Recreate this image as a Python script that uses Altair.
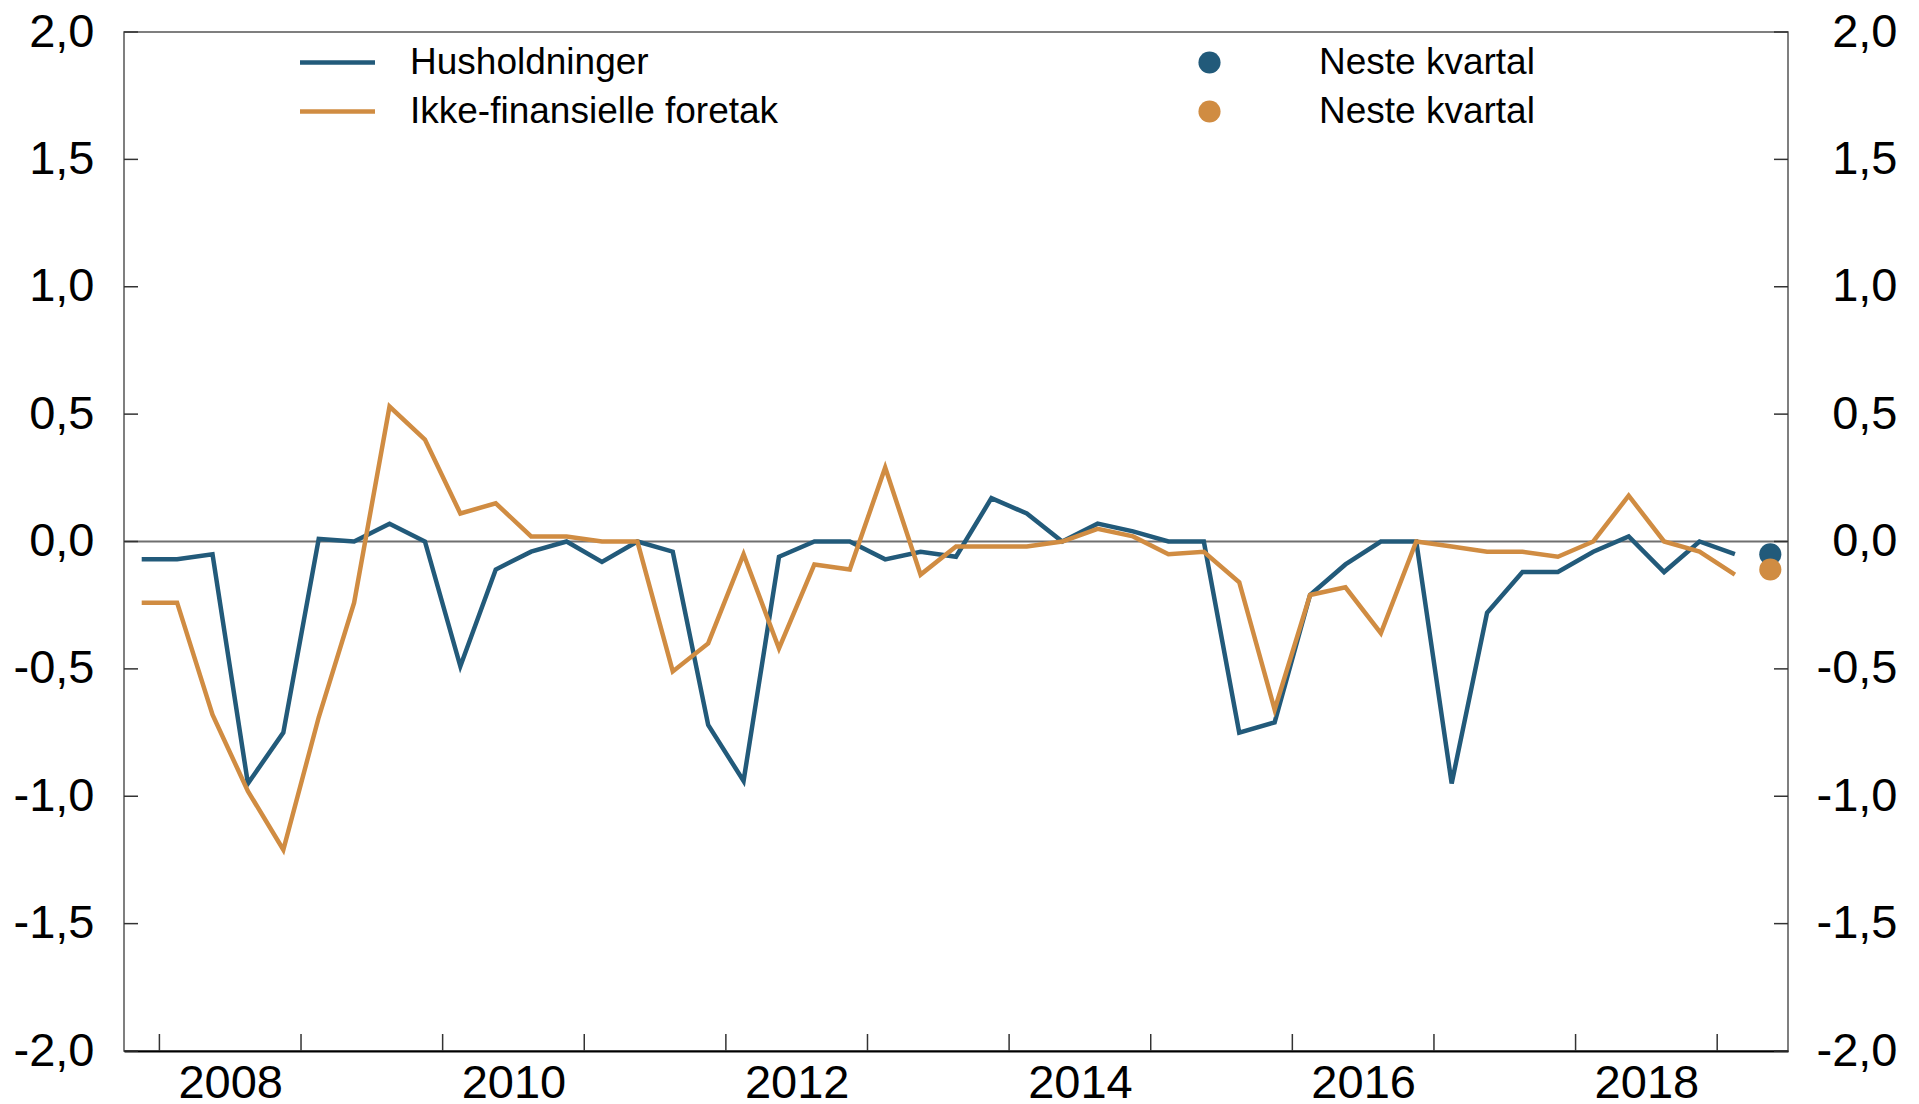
import altair as alt
import pandas as pd

# ---- data (quarterly, 2007Q4 - 2019Q1) ----
quarters = [f"{y}Q{q}" for y in range(2007, 2020) for q in range(1, 5)][3:49]

husholdninger = [-0.07, -0.07, -0.05, -0.95, -0.75, 0.01, 0.0, 0.07, 0.0, -0.49, -0.11, -0.04,
                 0.0, -0.08, 0.0, -0.04, -0.72, -0.94, -0.06, 0.0, 0.0, -0.07, -0.04, -0.06,
                 0.17, 0.11, 0.0, 0.07, 0.04, 0.0, 0.0, -0.75, -0.71, -0.21, -0.09, 0.0, 0.0,
                 -0.95, -0.28, -0.12, -0.12, -0.04, 0.02, -0.12, 0.0, -0.05]
foretak = [-0.24, -0.24, -0.68, -0.98, -1.21, -0.69, -0.24, 0.53, 0.40, 0.11, 0.15, 0.02,
           0.02, 0.0, 0.0, -0.51, -0.40, -0.05, -0.42, -0.09, -0.11, 0.29, -0.13, -0.02,
           -0.02, -0.02, 0.0, 0.05, 0.02, -0.05, -0.04, -0.16, -0.66, -0.21, -0.18, -0.36, 0.0,
           -0.02, -0.04, -0.04, -0.06, 0.0, 0.18, 0.0, -0.04, -0.13]

series = ["Husholdninger", "Ikke-finansielle foretak"]
neste_quarter = "2019Q2"
neste_series = ["Neste kvartal H", "Neste kvartal F"]
neste_values = [-0.05, -0.11]

y_ticks = [-2.0, -1.5, -1.0, -0.5, 0.0, 0.5, 1.0, 1.5, 2.0]
year_ticks = list(range(2008, 2020))
label_years = [2008, 2010, 2012, 2014, 2016, 2018]

BLUE = "#225A7A"
ORANGE = "#D08C42"
FONT = "Liberation Sans"
W, H = 1664, 1019


def qpos(s):
    return int(s[:4]) + (int(s[-1]) - 1) / 4 + 0.125


df_lines = pd.DataFrame(
    [{"x": qpos(q), "serie": series[0], "v": v} for q, v in zip(quarters, husholdninger)]
    + [{"x": qpos(q), "serie": series[1], "v": v} for q, v in zip(quarters, foretak)]
)
df_pts = pd.DataFrame({"x": [qpos(neste_quarter)] * 2, "serie": neste_series, "v": neste_values})
df_yt = pd.DataFrame({"v": y_ticks})
df_xt = pd.DataFrame({"x": year_ticks})
df_zero = pd.DataFrame({"v": [0.0]})

xscale = alt.Scale(domain=[2007.75, 2019.5], nice=False, zero=False)
yscale = alt.Scale(domain=[-2, 2], nice=False, zero=False)
ylab = "(datum.value < 0 ? '-' : '') + replace(format(abs(datum.value), '.1f'), '.', ',')"

x_axis = alt.Axis(values=[y + 0.5 for y in label_years], labelExpr="format(floor(datum.value), 'd')",
                  ticks=False, domain=True, domainColor="black", domainWidth=2, grid=False,
                  title=None, labelPadding=9, labelOverlap=False, labelFlush=False,
                  labelFont=FONT, labelFontSize=47, labelColor="black")


def X():
    return alt.X("x:Q", scale=xscale, axis=x_axis)


zero = alt.Chart(df_zero).mark_rule(color="#6f6f6f", strokeWidth=2).encode(
    y=alt.Y("v:Q", scale=yscale, axis=None))

left_ticks = alt.Chart(df_yt).mark_rule(color="#333333", strokeWidth=1.5).encode(
    y=alt.Y("v:Q", scale=yscale,
            axis=alt.Axis(orient="left", values=y_ticks, labelExpr=ylab, ticks=False, domain=False,
                          grid=False, title=None, labelPadding=30, labelAlign="right")),
    x=alt.value(0), x2=alt.value(14))

right_ticks = alt.Chart(df_yt).mark_rule(color="#333333", strokeWidth=1.5).encode(
    y=alt.Y("v:Q", scale=yscale,
            axis=alt.Axis(orient="right", values=y_ticks, labelExpr=ylab, ticks=False, domain=False,
                          grid=False, title=None, labelPadding=109, labelAlign="right")),
    x=alt.value(W - 14), x2=alt.value(W))

bottom_ticks = alt.Chart(df_xt).mark_rule(color="#333333", strokeWidth=1.5).encode(
    x=X(), y=alt.value(H - 17), y2=alt.value(H))

lines = alt.Chart(df_lines).mark_line(strokeWidth=4.5).encode(
    x=X(),
    y=alt.Y("v:Q", scale=yscale, axis=None),
    color=alt.Color("serie:N", scale=alt.Scale(domain=series, range=[BLUE, ORANGE]),
                    legend=alt.Legend(title=None, orient="none", legendX=195, legendY=12,
                                      symbolType="M-3,0L3,0", symbolSize=625, symbolStrokeWidth=4.5,
                                      labelOffset=54, rowPadding=11, padding=0, labelLimit=2000)),
)

pts = alt.Chart(df_pts).mark_circle(size=490, opacity=1).encode(
    x=X(),
    y=alt.Y("v:Q", scale=yscale, axis=None),
    fill=alt.Fill("serie:N", scale=alt.Scale(domain=neste_series, range=[BLUE, ORANGE]),
                  legend=alt.Legend(title=None, orient="none", legendX=1067, legendY=12,
                                    symbolType="circle", symbolSize=490, symbolStrokeWidth=0,
                                    labelOffset=91, rowPadding=11, padding=0, labelLimit=2000,
                                    labelExpr="'Neste kvartal'")),
)

chart = alt.layer(zero, left_ticks, right_ticks, bottom_ticks, lines, pts).resolve_axis(
    y="independent"
).properties(
    width=W, height=H,
    padding={"left": 116, "top": 24, "right": 115, "bottom": 56},
    autosize=alt.AutoSizeParams(type="none"),
).configure_view(
    stroke="#555555", strokeWidth=1.5
).configure_axis(
    labelFont=FONT, labelFontSize=47, labelColor="black"
).configure_legend(
    labelFont=FONT, labelFontSize=37, labelColor="black"
)

chart.save("out.html", embed_options={"renderer": "svg", "actions": False})
